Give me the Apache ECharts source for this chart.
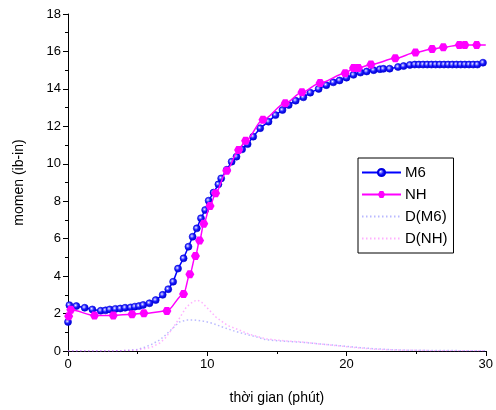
<!DOCTYPE html>
<html><head><meta charset="utf-8">
<script src="https://cdn.jsdelivr.net/npm/echarts@6/dist/echarts.min.js"></script>
<style>html,body{margin:0;padding:0;background:#fff}#c{width:496px;height:410px}</style>
</head><body><div id="c"></div>
<script>
// M6 torque curve
const m6X = [0,0.1,0.6,1.2,1.75,2.35,2.7,3.0,3.4,3.75,4.1,4.5,4.8,5.1,5.4,5.85,6.3,6.8,7.2,7.55,7.9,8.3,8.65,8.95,9.25,9.55,9.85,10.1,10.45,10.8,11.0,11.4,11.75,12.1,12.5,12.9,13.3,13.8,14.4,14.9,15.4,15.85,16.35,16.9,17.4,18.0,18.55,19.05,19.5,20.0,20.5,21.0,21.45,21.95,22.4,22.65,23.1,23.7,24.1,24.55,24.9,25.2,25.5,25.8,26.1,26.4,26.7,27.0,27.3,27.6,27.9,28.2,28.5,28.8,29.1,29.4,29.8];
const m6Y = [1.55,2.45,2.40,2.31,2.22,2.15,2.17,2.22,2.25,2.27,2.31,2.33,2.37,2.40,2.46,2.55,2.72,3.0,3.3,3.7,4.4,4.95,5.57,6.1,6.55,7.09,7.53,8.03,8.46,8.9,9.22,9.68,10.11,10.38,10.77,11.05,11.45,11.9,12.25,12.6,12.87,13.14,13.37,13.55,13.8,14.0,14.2,14.35,14.45,14.6,14.75,14.87,14.93,15.0,15.05,15.07,15.08,15.17,15.22,15.28,15.3,15.3,15.3,15.3,15.3,15.3,15.3,15.3,15.3,15.3,15.3,15.3,15.3,15.3,15.3,15.3,15.4];
// NH torque curve (last point: end of fitted line, no marker)
const nhX = [0.05,0.2,1.9,3.25,4.6,5.45,7.1,8.3,8.75,9.15,9.45,9.75,10.2,10.6,11.4,12.25,12.75,14.0,15.6,16.8,18.1,19.9,20.5,20.85,21.75,23.5,24.95,26.15,26.95,28.1,28.5,29.35,30];
const nhY = [1.85,2.2,1.9,1.9,1.96,2.01,2.14,3.05,4.1,5.07,5.9,6.8,7.75,8.42,9.63,10.74,11.23,12.35,13.23,13.82,14.32,14.83,15.12,15.12,15.3,15.63,15.94,16.13,16.22,16.35,16.35,16.35,16.35];
// derivative curves
const dm6X = [0,1,2,3,4,5,5.5,6,6.6,7,7.5,8,8.5,9,9.5,10,10.5,11,12,13,13.5,14.2,15,16,17,18,19,20,21,22,23,24,26,28,30];
const dm6Y = [0,0,0,0,0.02,0.08,0.2,0.35,0.6,0.85,1.2,1.55,1.65,1.66,1.62,1.55,1.45,1.3,1.05,0.85,0.76,0.6,0.55,0.5,0.45,0.38,0.32,0.25,0.18,0.12,0.08,0.05,0.03,0.02,0.02];
const dnhX = [0,1,2,3,4,5,6,6.6,7,7.5,8,8.5,9,9.3,9.6,10,10.6,11,11.5,12.3,13,13.5,14.2,15,16,16.6,18,20,21,22,23.7,26,28,30];
const dnhY = [0,0,0,0,0.02,0.05,0.2,0.43,0.7,1.2,1.75,2.35,2.65,2.72,2.6,2.3,1.83,1.6,1.35,1.12,0.9,0.8,0.65,0.58,0.52,0.5,0.38,0.23,0.16,0.1,0.05,0.02,0.01,0.01];
const legendNames = ['M6', 'NH', 'D(M6)', 'D(NH)'];

const pairs = (xs, ys) => xs.map((x, i) => [x, ys[i]]);
const font = 'Liberation Sans, Arial, sans-serif';
const sphere = {type:'radial', x:0.4, y:0.4, r:0.6, colorStops:[{offset:0,color:'#ffffff'},{offset:0.18,color:'#9a9aff'},{offset:0.5,color:'#1a1aff'},{offset:1,color:'#0000c8'}]};
const hexagon = 'path://M5,0 L15,0 L20,8.66 L15,17.32 L5,17.32 L0,8.66 Z';
const nhData = pairs(nhX, nhY).map((p, i) => i === nhX.length - 1 ? {value: p, symbol: 'none'} : p);

const chart = echarts.init(document.getElementById('c'), null, {renderer:'canvas'});
chart.setOption({
  animation: false,
  backgroundColor: '#fff',
  grid: {left: 68, right: 8, top: 14, bottom: 59, containLabel: false},
  xAxis: {
    type: 'value', min: 0, max: 30, interval: 10,
    name: 'thời gian (phút)', nameLocation: 'middle', nameGap: 40,
    nameTextStyle: {fontFamily: font, fontSize: 14, color: '#000'},
    axisLine: {show: true, lineStyle: {color: '#000', width: 1}},
    axisTick: {show: true, inside: false, length: 5, lineStyle: {color: '#000'}},
    minorTick: {show: true, splitNumber: 2, length: 3, lineStyle: {color: '#000'}},
    axisLabel: {fontFamily: font, fontSize: 13, color: '#000', margin: 7},
    splitLine: {show: false}
  },
  yAxis: {
    type: 'value', min: 0, max: 18, interval: 2,
    name: 'momen (ib-in)', nameLocation: 'middle', nameGap: 42,
    nameTextStyle: {fontFamily: font, fontSize: 14, color: '#000'},
    axisLine: {show: true, lineStyle: {color: '#000', width: 1}},
    axisTick: {show: true, inside: false, length: 5, lineStyle: {color: '#000'}},
    minorTick: {show: true, splitNumber: 2, length: 3, lineStyle: {color: '#000'}},
    axisLabel: {fontFamily: font, fontSize: 13, color: '#000', margin: 7},
    splitLine: {show: false}
  },
  legend: {
    orient: 'vertical', left: 358, top: 158,
    width: 99,
    padding: [6, 6, 6, 3],
    itemGap: 5, itemWidth: 39, itemHeight: 9,
    borderColor: '#000', borderWidth: 1,
    textStyle: {fontFamily: font, fontSize: 15, color: '#000', lineHeight: 17, padding: [0,0,0,-1]},
    data: [
      {name: legendNames[0]},
      {name: legendNames[1]},
      {name: legendNames[2], itemStyle: {opacity: 0}},
      {name: legendNames[3], itemStyle: {opacity: 0}}
    ]
  },
  series: [
    {name: 'D(M6)', type: 'line', data: pairs(dm6X, dm6Y), symbol: 'none', smooth: false,
     lineStyle: {color: 'rgba(80,80,255,0.4)', width: 1.5, type: [1.5, 2.5]}, itemStyle: {color: 'rgba(80,80,255,0.5)'}, z: 1},
    {name: 'D(NH)', type: 'line', data: pairs(dnhX, dnhY), symbol: 'none', smooth: false,
     lineStyle: {color: 'rgba(255,80,255,0.45)', width: 1.5, type: [1.5, 2.5]}, itemStyle: {color: 'rgba(255,80,255,0.5)'}, z: 1},
    {name: 'M6', type: 'line', data: pairs(m6X, m6Y), symbol: 'circle', symbolSize: 7, showAllSymbol: true,
     lineStyle: {color: '#0000ff', width: 1.5}, itemStyle: {color: sphere, borderColor: '#0000e0', borderWidth: 0.6}, z: 3},
    {name: 'NH', type: 'line', data: nhData, symbol: hexagon, symbolSize: [9, 8], showAllSymbol: true,
     smooth: 0.3, smoothMonotone: 'x',
     lineStyle: {color: '#ff00ff', width: 1.5}, itemStyle: {color: '#ff00ff'}, z: 4}
  ]
});
</script></body></html>
